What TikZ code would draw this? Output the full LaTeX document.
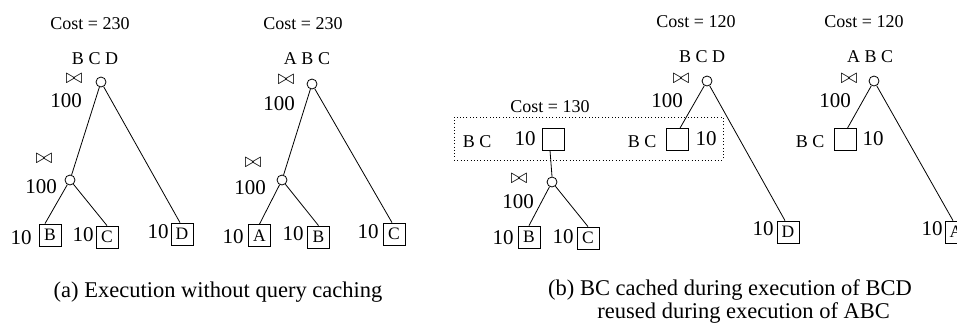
\documentclass[tikz,border=0pt]{standalone}
\usepackage{fontspec}
\setmainfont{Liberation Serif}
\begin{document}
\begin{tikzpicture}[x=1pt,y=-1pt,line width=0.8pt,
  joinnode/.style={circle, draw, minimum size=10pt, inner sep=0pt},
  relbox/.style={draw, minimum size=22pt, inner sep=0pt, font=\fontsize{17.5}{17.5}\selectfont},
  cost/.style={anchor=base, font=\fontsize{18}{18}\selectfont},
  lbl/.style={anchor=base, font=\fontsize{18}{18}\selectfont},
  num/.style={anchor=base, font=\fontsize{21}{21}\selectfont},
  jsym/.style={inner sep=0pt, font=\fontsize{22}{22}\selectfont},
  capt/.style={anchor=base, font=\fontsize{22.5}{22.5}\selectfont},
  cachebox/.style={draw, dash pattern=on 1pt off 2.3pt, line width=0.9pt, inner sep=0pt}]
\useasboundingbox (0,0) rectangle (957,322);
\clip (0,0) rectangle (957,322);

% ---- (a) plan for BCD, no caching ----
\node[cost] at (90,29.3) {Cost = 230};
\node[lbl] at (95,64.3) {B C D};
\node[jsym] at (74,79) {$\bowtie$};
\node[num] at (66,107.3) {100};
\node[joinnode] (a1r) at (101,82) {};
\node[jsym] at (44,159) {$\bowtie$};
\node[num] at (41,193.3) {100};
\node[joinnode] (a1j) at (70,180) {};
\node[relbox] (a1B) at (50,235) {B};
\node[num] at (21,244) {10};
\node[relbox] (a1C) at (107,237) {C};
\node[num] at (83,241.7) {10};
\node[relbox] (a1D) at (182,234) {D};
\node[num] at (158,238.3) {10};
\draw (a1r) -- (a1j);
\draw (a1j) -- ([xshift=-5pt]a1B.north);
\draw (a1j) -- (a1C.north);
\draw (a1r) -- ([xshift=-2pt]a1D.north);

% ---- (a) plan for ABC, no caching ----
\node[cost] at (303,29.3) {Cost = 230};
\node[lbl] at (307,64.3) {A B C};
\node[jsym] at (286,80) {$\bowtie$};
\node[num] at (279,110) {100};
\node[joinnode] (a2r) at (312,84) {};
\node[jsym] at (253,163) {$\bowtie$};
\node[num] at (250,194.3) {100};
\node[joinnode] (a2j) at (282,180) {};
\node[relbox] (a2A) at (259.5,235.5) {A};
\node[num] at (233,243.3) {10};
\node[relbox] (a2B) at (318.5,237) {B};
\node[num] at (293,240) {10};
\node[relbox] (a2C) at (394,234) {C};
\node[num] at (368,238.3) {10};
\draw (a2r) -- (a2j);
\draw (a2j) -- (a2A.north);
\draw (a2j) -- (a2B.north);
\draw (a2r) -- ([xshift=-2pt]a2C.north);

\node[capt] at (218,297.7) {(a) Execution without query caching};

% ---- (b) cached BC subplan ----
\node[cost] at (550,112.3) {Cost = 130};
\node[cachebox, minimum width=269pt, minimum height=43pt] (cache) at (588.5,138.5) {};
\node[lbl] at (477,147.7) {B C};
\node[num] at (525,145.7) {10};
\node[relbox] (b1BC) at (553,139) {};
\node[jsym] at (519,179) {$\bowtie$};
\node[num] at (518,208.3) {100};
\node[joinnode] (b1j) at (552,182) {};
\node[relbox] (b1B) at (529,237) {B};
\node[num] at (503,244.3) {10};
\node[relbox] (b1C) at (588,238) {C};
\node[num] at (563,243.3) {10};
\draw ([xshift=-3pt]b1BC.south) -- (b1j.north);
\draw (b1j) -- (b1B.north);
\draw (b1j) -- (b1C.north);

% ---- (b) BCD reusing BC ----
\node[cost] at (696,27.3) {Cost = 120};
\node[lbl] at (702,62.7) {B C D};
\node[jsym] at (681,79) {$\bowtie$};
\node[num] at (667,107.3) {100};
\node[joinnode] (b2r) at (707,81) {};
\node[relbox] (b2BC) at (677,139.5) {};
\node[lbl] at (642,147.3) {B C};
\node[num] at (706,145) {10};
\node[relbox] (b2D) at (788,232) {D};
\node[num] at (763,235) {10};
\draw (b2r) -- ([xshift=3pt]b2BC.north);
\draw (b2r) -- ([xshift=-3pt]b2D.north);

% ---- (b) ABC reusing BC ----
\node[cost] at (864,27.3) {Cost = 120};
\node[lbl] at (870,62.7) {A B C};
\node[jsym] at (849,79) {$\bowtie$};
\node[num] at (835,107.3) {100};
\node[joinnode] (b3r) at (874,81) {};
\node[relbox] (b3BC) at (845.5,139.5) {};
\node[lbl] at (810,147.3) {B C};
\node[num] at (873,145) {10};
\node[relbox] (b3A) at (956,232) {A};
\node[num] at (932,235) {10};
\draw (b3r) -- ([xshift=2pt]b3BC.north);
\draw (b3r) -- ([xshift=-3pt]b3A.north);

\node[capt] at (730,295.7) {(b) BC cached during execution of BCD};
\node[capt] at (743.7,318) {reused during execution of ABC};
\end{tikzpicture}
\end{document}
